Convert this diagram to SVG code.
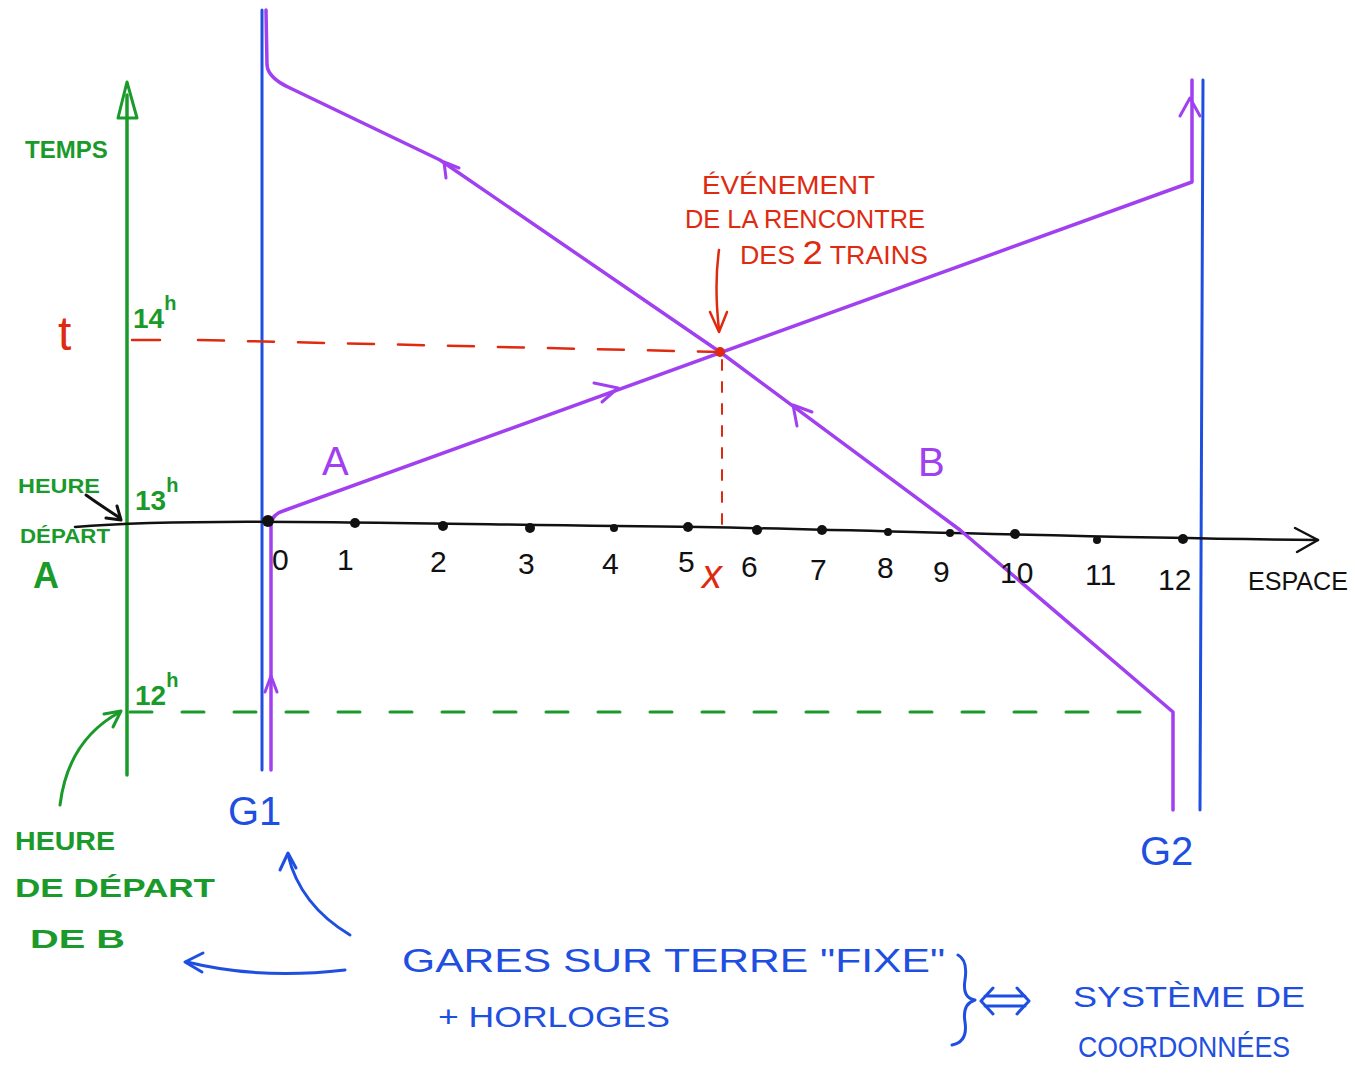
<svg xmlns="http://www.w3.org/2000/svg" width="1355" height="1083" viewBox="0 0 1355 1083">
<style>
.ln{fill:none;stroke-linecap:round;stroke-linejoin:round}
.g{stroke:#1a9a2a}
.b{stroke:#1f4fe0}
.p{stroke:#a040f0}
.r{stroke:#e02a10}
.k{stroke:#111}
.t{font-family:"Liberation Sans",Arial,sans-serif}
.tg{fill:#1a9a2a;font-weight:bold}
.tb{fill:#1f4fe0}
.tr{fill:#e02a10}
.tk{fill:#111}
.tp{fill:#a040f0}
</style>
<rect width="1355" height="1083" fill="#fff"/>
<g id="connectors">
  <path class="ln g" stroke-width="3.5" d="M127,775 L127,95"/>
  <path class="ln g" stroke-width="3" d="M118,118 L127,82 L137,118 Z"/>
  <path class="ln b" stroke-width="3" d="M262,10 L262,770"/>
  <path class="ln b" stroke-width="3" d="M1203,80 L1200,810"/>
  <path class="ln k" stroke-width="2.5" d="M75,527 C200,517 400,524 700,527 C900,531 1100,538 1318,540"/>
  <path class="ln k" stroke-width="2.5" d="M1295,528 L1318,540 L1297,552"/>
  <path class="ln r" stroke-width="2.5" stroke-dasharray="26,24" d="M198,340 L720,352"/>
  <path class="ln r" stroke-width="2.5" d="M132,340 L160,340"/>
  <path class="ln r" stroke-width="2" stroke-dasharray="10,12" d="M722,360 L722,532"/>
  <path class="ln g" stroke-width="3" stroke-dasharray="22,30" d="M130,712 L1170,712"/>
  <path class="ln p" stroke-width="3.5" d="M271,770 L271,525 Q272,514 283,511 L1192,182 L1192,80"/>
  <path class="ln p" stroke-width="3" d="M265,692 L271,676 L277,692"/>
  <path class="ln p" stroke-width="3" d="M594,383 L618,388 L602,402"/>
  <path class="ln p" stroke-width="3" d="M1180,116 L1190,98 L1200,116"/>
  <path class="ln p" stroke-width="3.5" d="M1173,810 L1173,712 L960,530 L720,352 L440,160 L290,88 Q268,78 267,65 L266,10"/>
  <path class="ln p" stroke-width="3" d="M446,178 L444,162 L459,168"/>
  <path class="ln p" stroke-width="3" d="M797,426 L793,405 L812,412"/>
  <circle cx="720" cy="352" r="5" fill="#e02a10"/>
  <path class="ln r" stroke-width="2.5" d="M719,250 Q714,285 719,330"/>
  <path class="ln r" stroke-width="2.5" d="M710,312 L719,332 L727,312"/>
  <path class="ln k" stroke-width="3" d="M86,495 Q100,505 120,518"/>
  <path class="ln k" stroke-width="3" d="M106,518 L121,520 L117,506"/>
  <path class="ln g" stroke-width="3" d="M60,805 Q68,740 120,712"/>
  <path class="ln g" stroke-width="3" d="M104,714 L121,711 L113,727"/>
  <path class="ln b" stroke-width="3" d="M350,935 Q300,905 288,855"/>
  <path class="ln b" stroke-width="3" d="M280,870 L288,853 L296,868"/>
  <path class="ln b" stroke-width="3" d="M345,970 Q260,980 187,962"/>
  <path class="ln b" stroke-width="3" d="M203,953 L185,962 L202,972"/>
  <path class="ln b" stroke-width="3" d="M958,955 Q968,960 965,980 Q962,998 975,1000 Q962,1004 965,1022 Q968,1042 952,1045"/>
  <path class="ln b" stroke-width="3" d="M985,996 L1025,996 M985,1006 L1025,1006 M993,988 L981,1001 L993,1014 M1017,988 L1029,1001 L1017,1014"/>
</g>
<g id="ticks">
  <circle cx="268" cy="521" r="6" fill="#111"/>
  <circle cx="355" cy="523" r="5" fill="#111"/>
  <circle cx="443" cy="526" r="5" fill="#111"/>
  <circle cx="530" cy="528" r="5" fill="#111"/>
  <circle cx="614" cy="528" r="4" fill="#111"/>
  <circle cx="688" cy="527" r="5" fill="#111"/>
  <circle cx="757" cy="530" r="5" fill="#111"/>
  <circle cx="822" cy="530" r="5" fill="#111"/>
  <circle cx="888" cy="532" r="4" fill="#111"/>
  <circle cx="950" cy="533" r="4" fill="#111"/>
  <circle cx="1015" cy="534" r="5" fill="#111"/>
  <circle cx="1097" cy="540" r="4" fill="#111"/>
  <circle cx="1183" cy="539" r="5" fill="#111"/>
</g>
<g id="axis-labels" class="t tk" font-size="30">
  <text x="272" y="570">0</text>
  <text x="337" y="570">1</text>
  <text x="430" y="572">2</text>
  <text x="518" y="574">3</text>
  <text x="602" y="574">4</text>
  <text x="678" y="572">5</text>
  <text x="741" y="577">6</text>
  <text x="810" y="580">7</text>
  <text x="877" y="578">8</text>
  <text x="933" y="582">9</text>
  <text x="1000" y="583">10</text>
  <text x="1085" y="585">11</text>
  <text x="1158" y="590">12</text>
  <text x="1248" y="590" font-size="25" textLength="100" lengthAdjust="spacingAndGlyphs">ESPACE</text>
</g>
<g id="time-labels" class="t">
  <text x="25" y="158" class="tg" font-size="24">TEMPS</text>
  <text x="133" y="328" font-size="28" class="tg">14<tspan font-size="20" dy="-18">h</tspan></text>
  <text x="135" y="510" font-size="28" class="tg">13<tspan font-size="20" dy="-18">h</tspan></text>
  <text x="135" y="705" font-size="28" class="tg">12<tspan font-size="20" dy="-18">h</tspan></text>
  <text x="58" y="350" font-size="48" class="tr">t</text>
  <text x="702" y="588" font-size="40" class="tr" font-style="italic">x</text>
</g>
<g id="trains" class="t tp" font-size="40">
  <text x="322" y="475">A</text>
  <text x="918" y="476">B</text>
</g>
<g id="event-label" class="t tr" font-size="25">
  <text x="702" y="194" textLength="173" lengthAdjust="spacingAndGlyphs">ÉVÉNEMENT</text>
  <text x="685" y="228" textLength="240" lengthAdjust="spacingAndGlyphs">DE LA RENCONTRE</text>
  <text x="740" y="264" textLength="188" lengthAdjust="spacingAndGlyphs">DES <tspan font-size="34">2</tspan> TRAINS</text>
</g>
<g id="depart-a" class="t tg" font-size="21">
  <text x="18" y="493" textLength="82" lengthAdjust="spacingAndGlyphs">HEURE</text>
  <text x="20" y="543" textLength="90" lengthAdjust="spacingAndGlyphs">DÉPART</text>
  <text x="33" y="588" font-size="36">A</text>
</g>
<g id="depart-b" class="t tg" font-size="26">
  <text x="15" y="850" textLength="100" lengthAdjust="spacingAndGlyphs">HEURE</text>
  <text x="15" y="897" textLength="200" lengthAdjust="spacingAndGlyphs">DE DÉPART</text>
  <text x="30" y="948" textLength="95" lengthAdjust="spacingAndGlyphs">DE B</text>
</g>
<g id="stations" class="t tb" font-size="40">
  <text x="228" y="825">G1</text>
  <text x="1140" y="865">G2</text>
</g>
<g id="caption" class="t tb" font-size="33">
  <text x="402" y="972" textLength="543" lengthAdjust="spacingAndGlyphs">GARES  SUR TERRE "FIXE"</text>
  <text x="438" y="1027" font-size="30" textLength="232" lengthAdjust="spacingAndGlyphs">+ HORLOGES</text>
  <text x="1073" y="1007" font-size="30" textLength="232" lengthAdjust="spacingAndGlyphs">SYSTÈME  DE</text>
  <text x="1078" y="1057" font-size="30" textLength="212" lengthAdjust="spacingAndGlyphs">COORDONNÉES</text>
</g>
</svg>
